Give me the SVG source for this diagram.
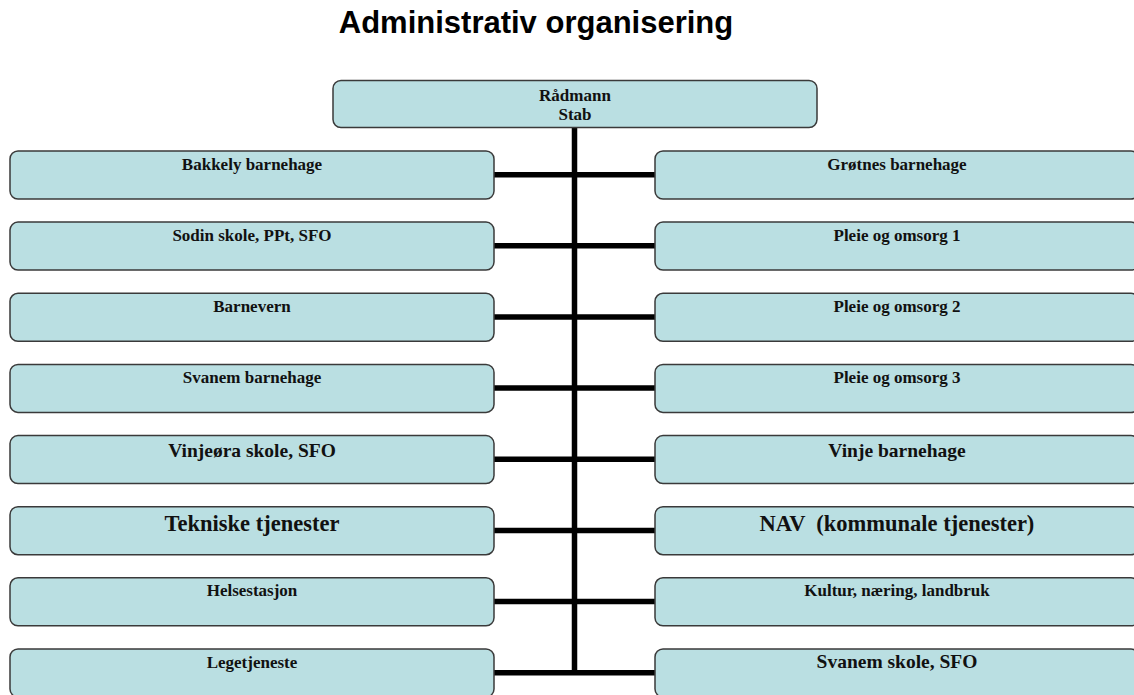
<svg xmlns="http://www.w3.org/2000/svg" width="1134" height="695" viewBox="0 0 1134 695">
  <style>
    .box { fill: #badfe2; stroke: #3a3a3a; stroke-width: 1.5; }
    .lbl { font-family: "Liberation Serif", "Times New Roman", serif; font-weight: bold; fill: #111; text-anchor: middle; }
    .s { font-size: 17px; }
    .m { font-size: 19.5px; }
    .l { font-size: 22.5px; }
    .title { font-family: "Liberation Sans", Arial, sans-serif; font-weight: bold; font-size: 31px; fill: #000; text-anchor: middle; }
    .wire { stroke: #000; fill: none; }
  </style>
  <rect width="1134" height="695" fill="#fff"/>

  <text class="title" x="536" y="33">Administrativ organisering</text>

  <!-- connectors: vertical trunk and horizontal branches -->
  <g id="connectors" class="wire">
    <line x1="574.5" y1="127" x2="574.5" y2="673" stroke-width="5.5"/>
    <g stroke-width="5.5">
      <line x1="494" y1="174.7" x2="655" y2="174.7"/>
      <line x1="494" y1="245.8" x2="655" y2="245.8"/>
      <line x1="494" y1="317" x2="655" y2="317"/>
      <line x1="494" y1="388.1" x2="655" y2="388.1"/>
      <line x1="494" y1="459.3" x2="655" y2="459.3"/>
      <line x1="494" y1="530.4" x2="655" y2="530.4"/>
      <line x1="494" y1="601.5" x2="655" y2="601.5"/>
      <line x1="494" y1="672.7" x2="655" y2="672.7"/>
    </g>
  </g>

  <g id="radmann">
    <rect class="box" x="333" y="80.5" width="484" height="47" rx="8"/>
    <text class="lbl s" x="575" y="101">Rådmann</text>
    <text class="lbl s" x="575" y="120">Stab</text>
  </g>

  <!-- left column -->
  <g id="bakkely">
    <rect class="box" x="10" y="151" width="484" height="48" rx="8"/>
    <text class="lbl s" x="252" y="169.5">Bakkely barnehage</text>
  </g>
  <g id="sodin">
    <rect class="box" x="10" y="222.1" width="484" height="48" rx="8"/>
    <text class="lbl s" x="252" y="240.6">Sodin skole, PPt, SFO</text>
  </g>
  <g id="barnevern">
    <rect class="box" x="10" y="293.3" width="484" height="48" rx="8"/>
    <text class="lbl s" x="252" y="311.8">Barnevern</text>
  </g>
  <g id="svanem-barnehage">
    <rect class="box" x="10" y="364.4" width="484" height="48" rx="8"/>
    <text class="lbl s" x="252" y="382.9">Svanem barnehage</text>
  </g>
  <g id="vinjeora">
    <rect class="box" x="10" y="435.6" width="484" height="48" rx="8"/>
    <text class="lbl m" x="252" y="456.6">Vinjeøra skole, SFO</text>
  </g>
  <g id="tekniske">
    <rect class="box" x="10" y="506.7" width="484" height="48" rx="8"/>
    <text class="lbl l" x="252" y="531.2">Tekniske tjenester</text>
  </g>
  <g id="helsestasjon">
    <rect class="box" x="10" y="577.8" width="484" height="48" rx="8"/>
    <text class="lbl s" x="252" y="596.3">Helsestasjon</text>
  </g>
  <g id="legetjeneste">
    <rect class="box" x="10" y="649" width="484" height="48" rx="8"/>
    <text class="lbl s" x="252" y="667.5">Legetjeneste</text>
  </g>

  <!-- right column -->
  <g id="grotnes">
    <rect class="box" x="655" y="151" width="484" height="48" rx="8"/>
    <text class="lbl s" x="897" y="169.5">Grøtnes barnehage</text>
  </g>
  <g id="pleie1">
    <rect class="box" x="655" y="222.1" width="484" height="48" rx="8"/>
    <text class="lbl s" x="897" y="240.6">Pleie og omsorg 1</text>
  </g>
  <g id="pleie2">
    <rect class="box" x="655" y="293.3" width="484" height="48" rx="8"/>
    <text class="lbl s" x="897" y="311.8">Pleie og omsorg 2</text>
  </g>
  <g id="pleie3">
    <rect class="box" x="655" y="364.4" width="484" height="48" rx="8"/>
    <text class="lbl s" x="897" y="382.9">Pleie og omsorg 3</text>
  </g>
  <g id="vinje-barnehage">
    <rect class="box" x="655" y="435.6" width="484" height="48" rx="8"/>
    <text class="lbl m" x="897" y="456.6">Vinje barnehage</text>
  </g>
  <g id="nav">
    <rect class="box" x="655" y="506.7" width="484" height="48" rx="8"/>
    <text class="lbl l" x="897" y="531.2" xml:space="preserve">NAV  (kommunale tjenester)</text>
  </g>
  <g id="kultur">
    <rect class="box" x="655" y="577.8" width="484" height="48" rx="8"/>
    <text class="lbl s" x="897" y="596.3">Kultur, næring, landbruk</text>
  </g>
  <g id="svanem-skole">
    <rect class="box" x="655" y="649" width="484" height="48" rx="8"/>
    <text class="lbl m" x="897" y="667.5">Svanem skole, SFO</text>
  </g>
</svg>
